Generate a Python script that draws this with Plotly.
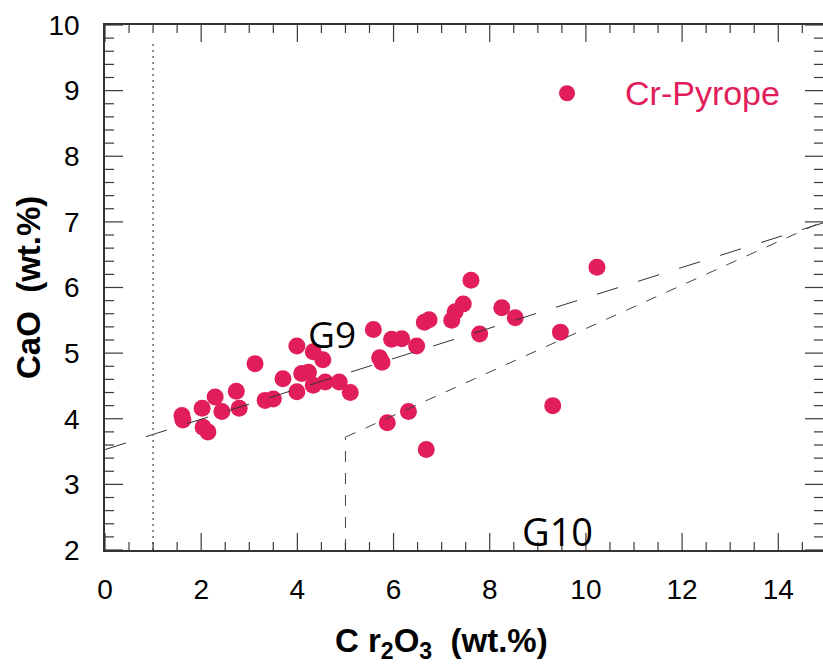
import numpy as np
import plotly.graph_objects as go

# Cr-pyrope analyses
cr2o3 = [1.60, 1.62, 2.02, 2.04, 2.14, 2.29, 2.43, 2.73, 2.79, 3.12, 3.33, 3.50,
         3.70, 3.99, 3.99, 4.09, 4.23, 4.33, 4.53, 4.33, 4.58, 4.87, 5.10, 5.58,
         5.71, 5.76, 5.96, 6.17, 6.48, 6.64, 6.74, 7.21, 7.28, 7.45, 7.61, 7.79,
         8.25, 8.53, 9.47, 10.23, 9.31, 6.31, 5.87, 6.68]
cao = [4.05, 3.98, 4.16, 3.87, 3.80, 4.33, 4.11, 4.42, 4.16, 4.84, 4.28, 4.30,
       4.61, 5.11, 4.41, 4.69, 4.71, 5.02, 4.90, 4.51, 4.56, 4.56, 4.40, 5.36,
       4.93, 4.86, 5.21, 5.22, 5.11, 5.47, 5.51, 5.50, 5.63, 5.75, 6.11, 5.29,
       5.69, 5.54, 5.32, 6.31, 4.20, 4.11, 3.94, 3.53]

# Field boundaries
g9_x = [0, 15]
g9_y = [3.53, 7.0]
g10_x = [5, 15]
g10_y = [3.72, 7.03]
g10_vert_x = [5, 5]
g10_vert_y = [2, 3.72]
cut_x = [1, 1]
cut_y = [2, 9.75]

x_ticks = [0, 2, 4, 6, 8, 10, 12, 14]
y_ticks = [2, 3, 4, 5, 6, 7, 8, 9, 10]
x_minor_step = 0.5
y_minor_step = 0.2
X_RANGE = [0, 14.93]
Y_RANGE = [2, 10]

W, H = 823, 667
M = dict(l=105, r=0, t=25, b=117)
PLOT_W = W - M["l"] - M["r"]
PLOT_H = H - M["t"] - M["b"]

PINK = "#E11D5A"
AXC = "#333333"
TICKC = "#3a3a3a"

fig = go.Figure()
fig.add_trace(go.Scatter(x=cr2o3, y=cao, mode="markers", name="\u200b",
                         marker=dict(color=PINK, size=17, line=dict(width=0)),
                         showlegend=True))
fig.add_trace(go.Scatter(x=g9_x, y=g9_y, mode="lines", showlegend=False,
                         line=dict(color="#333333", width=1, dash="22px,21px")))
fig.add_trace(go.Scatter(x=g10_x, y=g10_y, mode="lines", showlegend=False,
                         line=dict(color="#444444", width=1, dash="11px,11px")))
fig.add_trace(go.Scatter(x=g10_vert_x, y=g10_vert_y, mode="lines", showlegend=False,
                         line=dict(color="#444444", width=1, dash="11px,11px")))
fig.add_trace(go.Scatter(x=cut_x, y=cut_y, mode="lines", showlegend=False,
                         line=dict(color="#666666", width=1.5, dash="2px,4px")))

# inward tick marks on all four sides, built from the tick arrays
xu = (X_RANGE[1] - X_RANGE[0]) / PLOT_W   # data units per pixel
yu = (Y_RANGE[1] - Y_RANGE[0]) / PLOT_H
x_minor = [v for v in np.round(np.arange(X_RANGE[0], X_RANGE[1], x_minor_step), 3)
           if v not in x_ticks]
y_minor = [v for v in np.round(np.arange(Y_RANGE[0], Y_RANGE[1] + 1e-9, y_minor_step), 3)
           if not any(abs(v - t) < 1e-6 for t in y_ticks)]
tx, ty = [], []
for vals, ln in ((x_ticks, 17), (x_minor, 8)):
    for v in vals:
        tx += [v, v, None, v, v, None]
        ty += [Y_RANGE[0], Y_RANGE[0] + ln * yu, None, Y_RANGE[1], Y_RANGE[1] - ln * yu, None]
for vals, ln in ((y_ticks, 18), (y_minor, 9)):
    for v in vals:
        tx += [X_RANGE[0], X_RANGE[0] + ln * xu, None, X_RANGE[1], X_RANGE[1] - ln * xu, None]
        ty += [v, v, None, v, v, None]
fig.add_trace(go.Scatter(x=tx, y=ty, mode="lines", showlegend=False, hoverinfo="skip",
                         connectgaps=False, cliponaxis=False,
                         line=dict(color=TICKC, width=1.2)))

tickfont = dict(family="Liberation Sans, Arial, sans-serif", size=28, color="black")

fig.update_layout(
    xaxis=dict(range=X_RANGE, tickmode="array", tickvals=x_ticks, ticks="",
               showline=True, linecolor=AXC, linewidth=1.5, mirror=True,
               showgrid=False, zeroline=False, tickfont=tickfont,
               automargin=False, ticklabelstandoff=14),
    yaxis=dict(range=Y_RANGE, tickmode="array", tickvals=y_ticks, ticks="",
               showline=True, linecolor=AXC, linewidth=1.5, mirror=True,
               showgrid=False, zeroline=False, tickfont=tickfont,
               automargin=False, ticklabelstandoff=18),
)

fig.add_annotation(xref="paper", yref="paper", x=(441 - 105) / 718, y=-(643 - 550) / 525,
                   text="<b>C r<sub>2</sub>O<sub>3</sub>  (wt.%)</b>", showarrow=False,
                   font=dict(family="Liberation Sans, Arial, sans-serif", size=33, color="black"),
                   xanchor="center", yanchor="middle")
fig.add_annotation(xref="paper", yref="paper", x=-(105 - 28) / 718, y=1 - (288 - 25) / 525,
                   text="<b>CaO  (wt.%)</b>", showarrow=False, textangle=-90,
                   font=dict(family="Liberation Sans, Arial, sans-serif", size=33, color="black"),
                   xanchor="center", yanchor="middle")
fig.add_annotation(x=4.72, y=5.30, text="G9", showarrow=False,
                   font=dict(family="Open Sans, sans-serif", size=37, color="black"))
fig.add_annotation(x=9.4, y=2.29, text="G10", showarrow=False,
                   font=dict(family="Open Sans, sans-serif", size=38, color="black"))
# legend label
fig.add_annotation(xref="paper", yref="paper", x=(623 - 105) / 718, y=1 - (93 - 25) / 525,
                   text="Cr-Pyrope", showarrow=False, xanchor="left", yanchor="middle",
                   font=dict(family="Liberation Sans, Arial, sans-serif", size=34, color=PINK))

fig.update_layout(
    width=W, height=H,
    margin=dict(**M, autoexpand=False),
    paper_bgcolor="white", plot_bgcolor="white",
    legend=dict(x=0.6156, y=0.87, xanchor="left", yanchor="middle",
                bgcolor="rgba(0,0,0,0)",
                font=dict(family="Liberation Sans, Arial, sans-serif", size=20, color=PINK)),
)

fig.write_html("out.html", config={"displayModeBar": False},
               post_script="document.body.style.margin='0';document.body.style.padding='0';")
